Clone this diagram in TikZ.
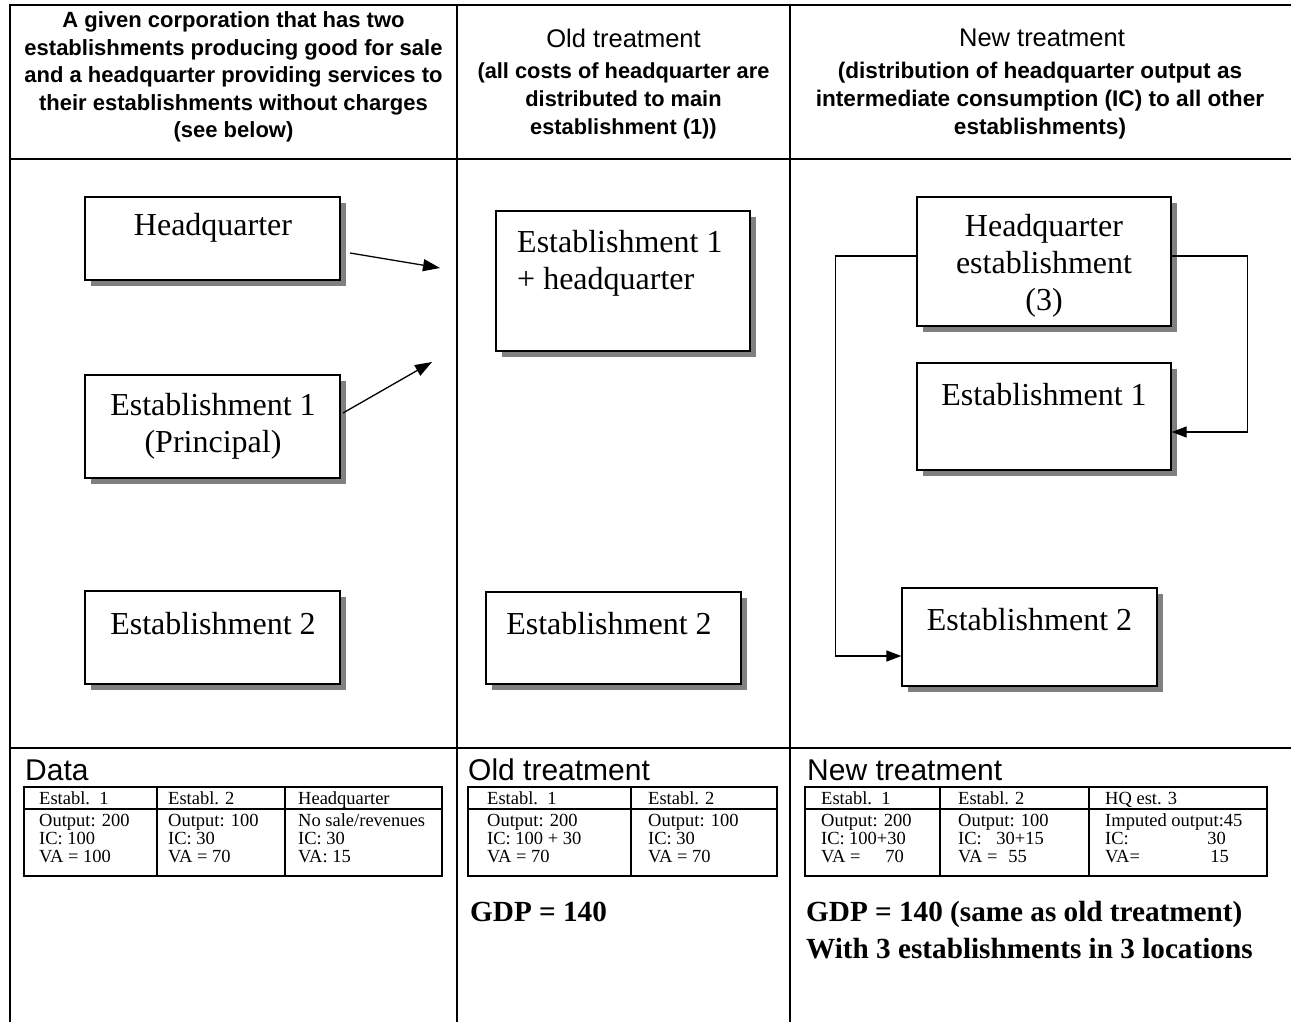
\documentclass[tikz,border=0pt]{standalone}
\usepackage{fontspec}
\setmainfont{Liberation Serif}
\newfontfamily\arialfont{Liberation Sans}
\usetikzlibrary{arrows.meta,shadows,calc}
\begin{document}
\begin{tikzpicture}[x=1pt,y=-1pt,
  frame/.style={line width=2pt},
  tbl/.style={line width=1.5pt},
  box/.style={draw, line width=1.3pt, fill=white, inner sep=0pt,
    drop shadow={shadow xshift=6pt,shadow yshift=-6pt,fill=black!50,opacity=1}},
  btext/.style={inner sep=0pt, align=center, font=\fontsize{32}{37}\selectfont},
  hdsub/.style={inner sep=0pt, align=center, font=\arialfont\bfseries\fontsize{22}{27.5}\selectfont},
  hdtitle/.style={inner sep=0pt, font=\arialfont\fontsize{25.5}{30}\selectfont},
  lowhead/.style={inner sep=0pt, anchor=base west, font=\arialfont\fontsize{30}{36}\selectfont},
  cell/.style={inner sep=0pt, anchor=base west, font=\fontsize{18.5}{18}\selectfont},
  cellr/.style={inner sep=0pt, anchor=base east, font=\fontsize{18.5}{18}\selectfont},
  gdp/.style={inner sep=0pt, anchor=base west, font=\bfseries\fontsize{29.2}{37}\selectfont},
  arr/.style={line width=1.3pt, -{Triangle[length=17pt,width=12pt]}},
  conn/.style={line width=1.3pt, -{Triangle[length=15pt,width=11pt]}}
]
\useasboundingbox (0,0) rectangle (1291,1022);

% frame
\draw[frame] (10,1022) -- (10,5) -- (1291,5);
\draw[frame] (10,159) -- (1291,159);
\draw[frame] (10,748) -- (1291,748);
\draw[frame] (457,5) -- (457,1022);
\draw[frame] (790,5) -- (790,1022);

% headers
\node[hdsub] (h1) at (233.5,77) {A given corporation that has two\\establishments producing good for sale\\and a headquarter providing services to\\their establishments without charges\\(see below)};
\node[hdtitle] (h2t) at (623.5,38) {Old treatment};
\node[hdsub, font=\arialfont\bfseries\fontsize{21.8}{28}\selectfont] (h2s) at (623.5,101) {(all costs of headquarter are\\distributed to main\\establishment (1))};
\node[hdtitle] (h3t) at (1042,38) {New treatment};
\node[hdsub, font=\arialfont\bfseries\fontsize{22.6}{28}\selectfont] (h3s) at (1040,101) {(distribution of headquarter output as\\intermediate consumption (IC) to all other\\establishments)};

% left column boxes
\node[box, minimum width=255pt, minimum height=83pt] (hq) at (212.5,238.5) {};
\node[btext] (hqt) at (213,228) {Headquarter};
\node[box, minimum width=255pt, minimum height=103pt] (e1) at (212.5,426.5) {};
\node[btext] (e1t) at (213,426) {Establishment 1\\(Principal)};
\node[box, minimum width=255pt, minimum height=93pt] (e2) at (212.5,637.5) {};
\node[btext] (e2t) at (213,624) {Establishment 2};

\coordinate (a1s) at (350,253);
\coordinate (a1e) at (440,268);
\coordinate (a2s) at (343,413);
\coordinate (a2e) at (432,362);
\draw[arr] (a1s) -- (a1e);
\draw[arr] (a2s) -- (a2e);

% middle column boxes
\node[box, minimum width=254pt, minimum height=140pt] (m1) at (623,281) {};
\node[btext, align=left, anchor=west] (m1t) at (517,263) {Establishment 1\\+ headquarter};
\node[box, minimum width=255pt, minimum height=92pt] (m2) at (613.5,638) {};
\node[btext] (m2t) at (609,624) {Establishment 2};

% right column boxes
\node[box, minimum width=254pt, minimum height=129pt] (r3) at (1044,261.5) {};
\node[btext] (r3t) at (1044,266) {Headquarter\\establishment\\(3)};
\node[box, minimum width=254pt, minimum height=107pt] (r1) at (1044,416.5) {};
\node[btext] (r1t) at (1044,395) {Establishment 1};
\node[box, minimum width=255pt, minimum height=98pt] (r2) at (1029.5,637) {};
\node[btext] (r2t) at (1029.5,620) {Establishment 2};

\draw[conn] ([yshift=5.5pt]r3.west) -- ++(-81,0) |- ([yshift=-19pt]r2.west);
\draw[conn] ([yshift=5.5pt]r3.east) -- ++(76,0) |- ([yshift=-15.5pt]r1.east);

% lower headings
\node[lowhead] (ld) at (25,780) {Data};
\node[lowhead] (lo) at (468,780) {Old treatment};
\node[lowhead] (ln) at (807,780) {New treatment};

% Data table
\draw[tbl] (24,787) rectangle (442,876);
\draw[tbl] (24,809) -- (442,809);
\draw[tbl] (157,787) -- (157,876);
\draw[tbl] (285,787) -- (285,876);
\node[cell] (d11) at (39,804) {Establ.\ \ 1};
\node[cell] (d12) at (168,804) {Establ. 2};
\node[cell] (d13) at (298,804) {Headquarter};
\node[cell] (d21) at (39,826) {Output: 200};
\node[cell] (d31) at (39,844) {IC: 100};
\node[cell] (d41) at (39,862) {VA = 100};
\node[cell] (d22) at (168,826) {Output: 100};
\node[cell] (d32) at (168,844) {IC: 30};
\node[cell] (d42) at (168,862) {VA = 70};
\node[cell] (d23) at (298,826) {No sale/revenues};
\node[cell] (d33) at (298,844) {IC: 30};
\node[cell] (d43) at (298,862) {VA: 15};

% Old table
\draw[tbl] (468,787) rectangle (777,876);
\draw[tbl] (468,809) -- (777,809);
\draw[tbl] (631,787) -- (631,876);
\node[cell] (o11) at (487,804) {Establ.\ \ 1};
\node[cell] (o12) at (648,804) {Establ. 2};
\node[cell] (o21) at (487,826) {Output: 200};
\node[cell] (o31) at (487,844) {IC: 100 + 30};
\node[cell] (o41) at (487,862) {VA = 70};
\node[cell] (o22) at (648,826) {Output: 100};
\node[cell] (o32) at (648,844) {IC: 30};
\node[cell] (o42) at (648,862) {VA = 70};
\node[gdp] (og) at (470,921) {GDP = 140};

% New table
\draw[tbl] (805,787) rectangle (1267,876);
\draw[tbl] (805,809) -- (1267,809);
\draw[tbl] (940,787) -- (940,876);
\draw[tbl] (1089,787) -- (1089,876);
\node[cell] (n11) at (821,804) {Establ.\ \ 1};
\node[cell] (n12) at (958,804) {Establ. 2};
\node[cell] (n13) at (1105,804) {HQ est. 3};
\node[cell] (n21) at (821,826) {Output: 200};
\node[cell] (n31) at (821,844) {IC:};
\node[cellr] (n31b) at (906,844) {100+30};
\node[cell] (n41) at (821,862) {VA =};
\node[cellr] (n41b) at (904,862) {70};
\node[cell] (n22) at (958,826) {Output: 100};
\node[cell] (n32) at (958,844) {IC:};
\node[cellr] (n32b) at (1044,844) {30+15};
\node[cell] (n42) at (958,862) {VA =};
\node[cellr] (n42b) at (1027,862) {55};
\node[cell] (n23) at (1105,826) {Imputed output:45};
\node[cell] (n33) at (1105,844) {IC:};
\node[cellr] (n33b) at (1226,844) {30};
\node[cell] (n43) at (1105,862) {VA=};
\node[cellr] (n43b) at (1229,862) {15};
\node[gdp] (ng1) at (806,921) {GDP = 140 (same as old treatment)};
\node[gdp] (ng2) at (806,958) {With 3 establishments in 3 locations};
\end{tikzpicture}
\end{document}
